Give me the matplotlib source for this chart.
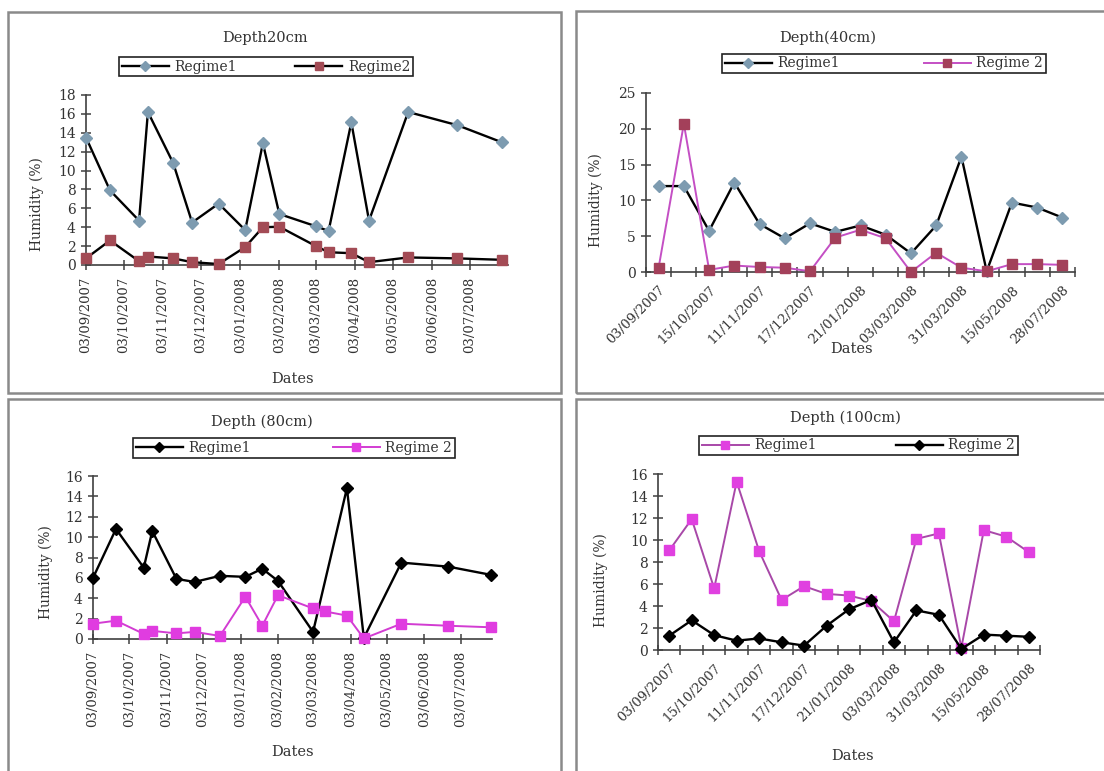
import datetime

import numpy as np
import matplotlib
matplotlib.use('Agg')
import matplotlib.pyplot as plt
import matplotlib.dates as mdates
from matplotlib.patches import Rectangle

plt.rcParams['font.family'] = 'DejaVu Serif'
plt.rcParams['font.size'] = 10

W, H = 1104, 771

# sampling dates (dd/mm/yyyy)
DATES = ['03/09/2007', '22/09/2007', '15/10/2007', '22/10/2007', '11/11/2007',
         '26/11/2007', '17/12/2007', '07/01/2008', '21/01/2008', '03/02/2008',
         '03/03/2008', '13/03/2008', '31/03/2008', '14/04/2008', '15/05/2008',
         '23/06/2008', '28/07/2008']

d20_r1 = [13.5, 7.9, 4.7, 16.2, 10.8, 4.5, 6.5, 3.7, 12.9, 5.4, 4.1, 3.6, 15.1, 4.7, 16.2, 14.8, 13.0]
d20_r2 = [0.7, 2.6, 0.4, 0.9, 0.7, 0.3, 0.1, 1.9, 4.0, 4.05, 2.0, 1.35, 1.25, 0.3, 0.8, 0.7, 0.55]

d40_r1 = [12.0, 12.0, 5.75, 12.5, 6.7, 4.7, 6.8, 5.6, 6.5, 5.2, 2.6, 6.5, 16.1, 0.1, 9.7, 9.0, 7.6]
d40_r2 = [0.6, 20.7, 0.3, 0.9, 0.7, 0.6, 0.1, 4.8, 5.9, 4.7, 0.0, 2.7, 0.6, 0.1, 1.1, 1.1, 1.0]

d80_r1 = [6.0, 10.8, 7.0, 10.6, 5.9, 5.6, 6.2, 6.1, 6.9, 5.7, 0.7, None, 14.8, 0.1, 7.5, 7.1, 6.3]
d80_r2 = [1.5, 1.8, 0.5, 0.8, 0.55, 0.7, 0.3, 4.15, 1.3, 4.3, 3.0, 2.7, 2.3, 0.05, 1.5, 1.3, 1.15]

d100_r1 = [9.05, 11.9, 5.6, 15.3, 9.0, 4.55, 5.8, 5.1, 4.95, 4.45, 2.6, 10.1, 10.6, 0.2, 10.9, 10.3, 8.9]
d100_r2 = [1.3, 2.7, 1.35, 0.85, 1.05, 0.7, 0.4, 2.2, 3.7, 4.55, 0.7, 3.6, 3.2, 0.1, 1.4, 1.3, 1.2]

dates = [datetime.datetime.strptime(d, '%d/%m/%Y') for d in DATES]


def fig_rect(x0, y0, x1, y1):
    # pixel box (top-left origin) -> figure fraction
    return [x0 / W, 1 - y1 / H, (x1 - x0) / W, (y1 - y0) / H]


def valid(xs, ys):
    pts = [(x, y) for x, y in zip(xs, ys) if y is not None]
    return [p[0] for p in pts], [p[1] for p in pts]


def series(ax, xs, ys, line_c, mk, mk_c, ms, lw, label):
    xs, ys = valid(xs, ys)
    return ax.plot(xs, ys, color=line_c, lw=lw, marker=mk, ms=ms,
                   mfc=mk_c, mec=mk_c, label=label, clip_on=False, zorder=3)[0]


def setup(ax, ymax, ystep):
    ax.spines['top'].set_visible(False)
    ax.spines['right'].set_visible(False)
    for s in ('left', 'bottom'):
        ax.spines[s].set_color('#404040')
        ax.spines[s].set_linewidth(1.2)
    ax.set_ylim(0, ymax)
    ax.set_yticks(np.arange(0, ymax + 0.1, ystep))
    ax.tick_params(axis='y', direction='inout', length=7, width=1.1, color='#404040',
                   labelsize=10, pad=4, labelcolor='#333333')


def add_legend(fig, handles, labels, box):
    x0, y0, x1, y1 = box
    leg = fig.legend(handles, labels, ncol=2, loc='center', mode='expand',
                     bbox_to_anchor=(x0 / W, 1 - y1 / H, (x1 - x0) / W, (y1 - y0) / H),
                     bbox_transform=fig.transFigure, fancybox=False, framealpha=1,
                     edgecolor='#222222', handlelength=3.4, fontsize=10,
                     borderpad=0.2, columnspacing=1.0, handletextpad=0.4,
                     borderaxespad=0, markerscale=0.85)
    leg.get_frame().set_linewidth(1.2)
    for t in leg.get_texts():
        t.set_color('#333333')


fig = plt.figure(figsize=(W / 100, H / 100), dpi=100)

# panel frames
for box in [(8, 12, 561, 393), (576, 11, 1112, 393), (8, 399, 561, 780), (576, 399, 1112, 780)]:
    fig.patches.append(Rectangle((box[0] / W, 1 - box[3] / H), (box[2] - box[0]) / W,
                                 (box[3] - box[1]) / H, transform=fig.transFigure,
                                 fill=False, edgecolor='#8a8a8a', lw=1.8))

# ---- Depth 20cm (date axis)
ax1 = fig.add_axes(fig_rect(86, 95, 508, 265))
setup(ax1, 18, 2)
h1 = series(ax1, dates, d20_r1, 'black', 'D', '#7d9bb0', 6, 1.7, 'Regime1')
h2 = series(ax1, dates, d20_r2, 'black', 's', '#a34b55', 7.5, 1.7, 'Regime2')
ax1.set_xlim(datetime.datetime(2007, 9, 3), datetime.datetime(2008, 8, 2))
ax1.xaxis.set_major_locator(mdates.MonthLocator(bymonthday=3, interval=1))
ax1.xaxis.set_major_formatter(mdates.DateFormatter('%d/%m/%Y'))
ax1.tick_params(axis='x', direction='inout', length=7, width=1.1, color='#404040',
                labelsize=9.5, labelrotation=90, pad=5, labelcolor='#333333')
ax1.set_ylabel('Humidity (%)', fontsize=10, color='#333333')
ax1.yaxis.set_label_coords(-0.1, 0.36)
ax1.set_xlabel('Dates', fontsize=10.5, color='#333333')
ax1.xaxis.set_label_coords(0.49, -0.63)
fig.text(265 / W, 1 - 38 / H, 'Depth20cm', ha='center', va='center', fontsize=10.5, color='#333333')
add_legend(fig, [h1, h2], ['Regime1', 'Regime2'], (119, 52, 413, 81))

# ---- Depth 40cm (category axis)
cat = np.arange(len(DATES))
ax2 = fig.add_axes(fig_rect(646, 93, 1075, 272))
setup(ax2, 25, 5)
h1 = series(ax2, cat, d40_r1, 'black', 'D', '#7d9bb0', 6, 1.7, 'Regime1')
h2 = series(ax2, cat, d40_r2, '#c44fc4', 's', '#a3405a', 7.5, 1.4, 'Regime 2')
ax2.set_xlim(-0.5, len(DATES) - 0.5)
ax2.set_xticks(cat[::2])
ax2.set_xticklabels(DATES[::2], rotation=45, ha='right', rotation_mode='anchor')
ax2.set_xticks(np.arange(-0.5, len(DATES)), minor=True)
ax2.tick_params(axis='x', which='major', length=0, labelsize=9.5, pad=8, labelcolor='#333333')
ax2.tick_params(axis='x', which='minor', direction='inout', length=7, width=1.1, color='#404040')
ax2.set_ylabel('Humidity (%)', fontsize=10, color='#333333')
ax2.yaxis.set_label_coords(-0.1, 0.4)
ax2.set_xlabel('Dates', fontsize=10.5, color='#333333')
ax2.xaxis.set_label_coords(0.48, -0.39)
fig.text(828 / W, 1 - 38 / H, 'Depth(40cm)', ha='center', va='center', fontsize=10.5, color='#333333')
add_legend(fig, [h1, h2], ['Regime1', 'Regime 2'], (722, 52, 1046, 75))

# ---- Depth 80cm (date axis)
ax3 = fig.add_axes(fig_rect(93, 476, 492, 639))
setup(ax3, 16, 2)
h1 = series(ax3, dates, d80_r1, 'black', 'D', 'black', 6, 1.7, 'Regime1')
h2 = series(ax3, dates, d80_r2, '#d23cd2', 's', '#e03ce0', 7.5, 1.4, 'Regime 2')
ax3.set_xlim(datetime.datetime(2007, 9, 3), datetime.datetime(2008, 7, 29))
ax3.xaxis.set_major_locator(mdates.MonthLocator(bymonthday=3, interval=1))
ax3.xaxis.set_major_formatter(mdates.DateFormatter('%d/%m/%Y'))
ax3.tick_params(axis='x', direction='inout', length=7, width=1.1, color='#404040',
                labelsize=9.5, labelrotation=90, pad=5, labelcolor='#333333')
ax3.set_ylabel('Humidity (%)', fontsize=10, color='#333333')
ax3.yaxis.set_label_coords(-0.1, 0.41)
ax3.set_xlabel('Dates', fontsize=10.5, color='#333333')
ax3.xaxis.set_label_coords(0.5, -0.65)
fig.text(262 / W, 1 - 422 / H, 'Depth (80cm)', ha='center', va='center', fontsize=10.5, color='#333333')
add_legend(fig, [h1, h2], ['Regime1', 'Regime 2'], (133, 437, 455, 459))

# ---- Depth 100cm (category axis)
ax4 = fig.add_axes(fig_rect(658, 474, 1040, 650))
setup(ax4, 16, 2)
h1 = series(ax4, cat, d100_r1, '#a848a8', 's', '#e040e0', 7.5, 1.4, 'Regime1')
h2 = series(ax4, cat, d100_r2, 'black', 'D', 'black', 6, 1.7, 'Regime 2')
ax4.set_xlim(-0.5, len(DATES) - 0.5)
ax4.set_xticks(cat[::2])
ax4.set_xticklabels(DATES[::2], rotation=45, ha='right', rotation_mode='anchor')
ax4.set_xticks(np.arange(-0.5, len(DATES)), minor=True)
ax4.tick_params(axis='x', which='major', length=0, labelsize=9.5, pad=8, labelcolor='#333333')
ax4.tick_params(axis='x', which='minor', direction='inout', length=7, width=1.1, color='#404040')
ax4.set_ylabel('Humidity (%)', fontsize=10, color='#333333')
ax4.yaxis.set_label_coords(-0.13, 0.4)
ax4.set_xlabel('Dates', fontsize=10.5, color='#333333')
ax4.xaxis.set_label_coords(0.51, -0.56)
fig.text(845 / W, 1 - 418 / H, 'Depth (100cm)', ha='center', va='center', fontsize=10.5, color='#333333')
add_legend(fig, [h1, h2], ['Regime1', 'Regime 2'], (699, 434, 1018, 457))

fig.savefig('out.png', dpi=100)
